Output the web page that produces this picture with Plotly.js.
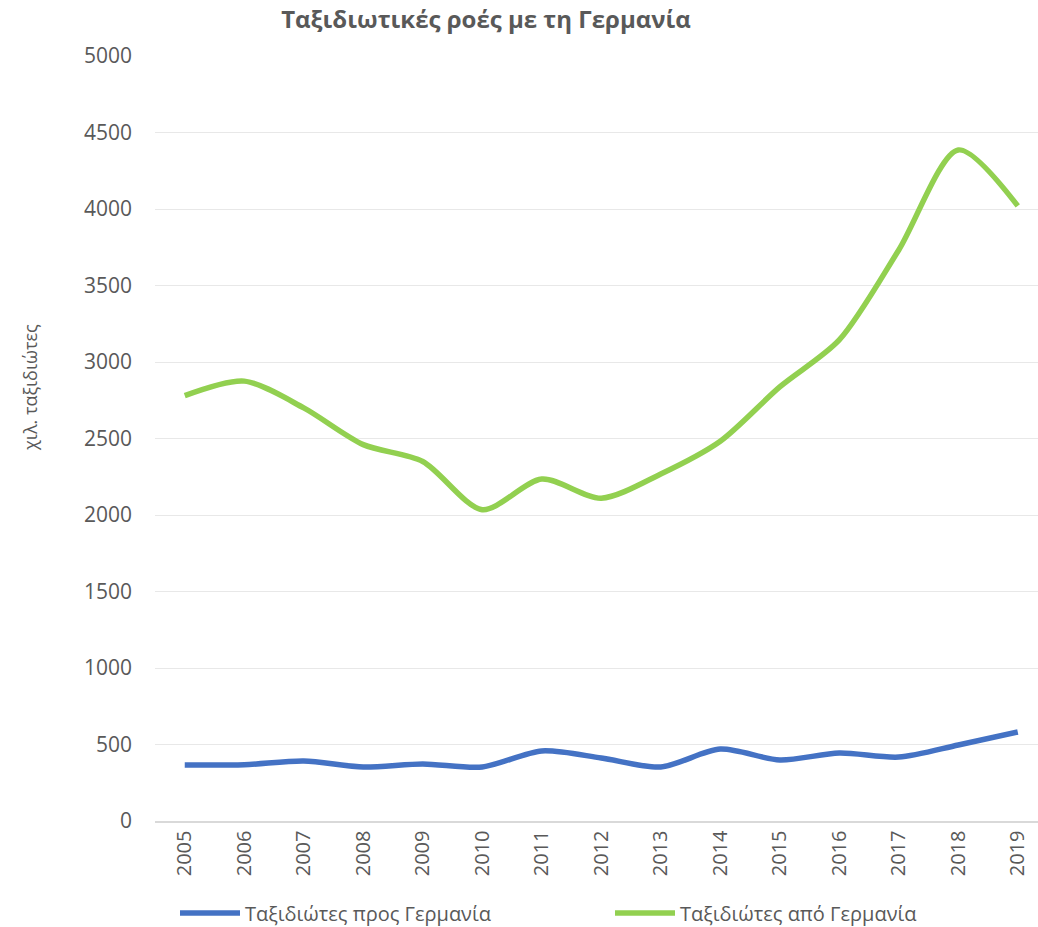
<!DOCTYPE html>
<html>
<head>
<meta charset="utf-8">
<script src="https://cdn.plot.ly/plotly-3.0.1.min.js"></script>
<style>html,body{margin:0;padding:0;background:#fff;}#chart{width:1038px;height:927px;}</style>
</head>
<body>
<div id="chart"></div>
<script>
const years = ['2005','2006','2007','2008','2009','2010','2011','2012','2013','2014','2015','2016','2017','2018','2019'];
const toGermany = [366, 368, 392, 353, 373, 353, 458, 412, 353, 470, 399, 444, 418, 497, 582];
const fromGermany = [2780, 2875, 2700, 2460, 2350, 2035, 2235, 2110, 2268, 2482, 2837, 3144, 3732, 4386, 4020];
const seriesNames = ['Ταξιδιώτες προς Γερμανία', 'Ταξιδιώτες από Γερμανία'];
const yTicks = [0, 500, 1000, 1500, 2000, 2500, 3000, 3500, 4000, 4500, 5000];

const font = "'Open Sans', 'DejaVu Sans', sans-serif";
const grey = '#595959';

const traces = [
  {x: years, y: toGermany, name: seriesNames[0], type: 'scatter', mode: 'lines',
   line: {color: '#4472C4', width: 5.5, shape: 'spline', smoothing: 0.8}},
  {x: years, y: fromGermany, name: seriesNames[1], type: 'scatter', mode: 'lines',
   line: {color: '#92D050', width: 5.5, shape: 'spline', smoothing: 0.8}}
];

const layout = {
  width: 1038, height: 927,
  paper_bgcolor: '#fff', plot_bgcolor: '#fff',
  margin: {l: 155, r: 0, t: 56, b: 106},
  font: {family: font, color: grey},
  title: {text: '<b>Ταξιδιωτικές ροές με τη Γερμανία</b>', font: {size: 24, color: grey, family: font},
          x: 486/1038, xref: 'container', xanchor: 'center', y: 1 - 20/927, yref: 'container', yanchor: 'middle'},
  xaxis: {type: 'category', range: [-0.5, 14.34], tickangle: -90, tickfont: {size: 20, color: grey},
          showgrid: false, zeroline: false, showline: true, linecolor: '#d9d9d9', linewidth: 1.5, ticks: '', fixedrange: true},
  yaxis: {range: [0, 5000], tickvals: yTicks, ticktext: yTicks.map(String), tickfont: {size: 21, color: grey},
          showgrid: true, gridcolor: '#e8e8e8', gridwidth: 1, zeroline: false, showline: false, ticks: '', ticklen: 0,
          ticklabelstandoff: 22},
  showlegend: true,
  legend: {orientation: 'h', xref: 'container', yref: 'container', x: 175/1038, xanchor: 'left', y: 14/927, yanchor: 'middle',
           font: {size: 20, color: grey, family: font}, entrywidth: 360, entrywidthmode: 'pixels',
           itemwidth: 60, tracegroupgap: 0},
  annotations: [
    {text: 'χιλ. ταξιδιώτες', xref: 'paper', yref: 'paper', x: (30-155)/883, y: (821-388)/765,
     xanchor: 'center', yanchor: 'middle', textangle: -90, showarrow: false, font: {size: 18, color: grey, family: font}}
  ]
};

Plotly.newPlot('chart', traces, layout, {displayModeBar: false, staticPlot: true});
</script>
</body>
</html>
